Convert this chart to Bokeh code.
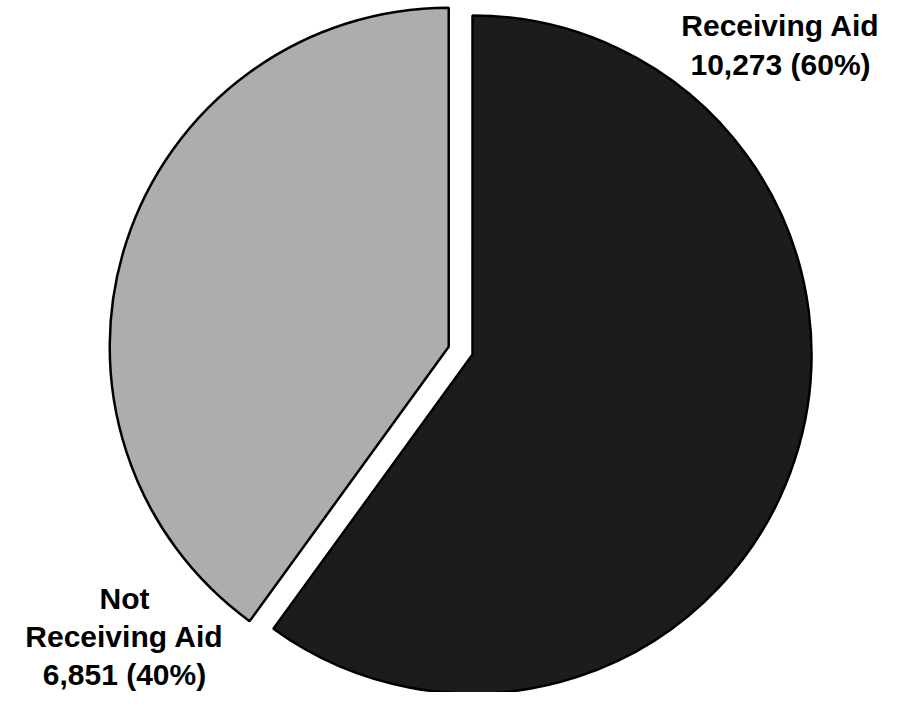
import math
from bokeh.plotting import figure
from bokeh.models import Range1d, ColumnDataSource
from bokeh.core.properties import value
from bokeh.embed import file_html
from bokeh.resources import INLINE

# ---- data ----
categories = ["Receiving Aid", "Not Receiving Aid"]
counts = [10273, 6851]
label_lines = [["Receiving Aid"], ["Not", "Receiving Aid"]]

# ---- style / layout ----
colors = ["#1c1c1c", "#adadad"]
explode = [0, 25]
W, H = 884, 692
cx, cy, R = 472, 338, 339
label_anchor = [(780, 667), (124, 94)]   # first-line anchor for each label block
line_gaps = [39, 38]

p = figure(width=W, height=H, output_backend="svg", toolbar_location=None,
           x_range=Range1d(0, W), y_range=Range1d(0, H),
           min_border=0, outline_line_color=None)
p.axis.visible = False
p.grid.visible = False
p.background_fill_color = "white"
p.border_fill_color = "white"

total = sum(counts)
start = 90.0  # degrees; slices go clockwise from 12 o'clock
for i, (c, col) in enumerate(zip(counts, colors)):
    sweep = 360.0 * c / total
    end = start - sweep
    mid = math.radians((start + end) / 2)
    ox = cx + explode[i] * math.cos(mid)
    oy = cy + explode[i] * math.sin(mid)
    p.wedge(x=[ox], y=[oy], radius=R, start_angle=[math.radians(end)],
            end_angle=[math.radians(start)], direction="anticlock",
            fill_color=col, line_color="black", line_width=2.5)
    start = end

# ---- labels ----
xs, ys, txt = [], [], []
for i, c in enumerate(counts):
    pct = 100.0 * c / total
    lines = label_lines[i] + [f"{c:,} ({pct:.0f}%)"]
    ax, ay = label_anchor[i]
    for k, t in enumerate(lines):
        xs.append(ax)
        ys.append(ay - k * line_gaps[i])
        txt.append(t)

src = ColumnDataSource(dict(x=xs, y=ys, text=txt))
p.text(x="x", y="y", text="text", source=src, text_align="center",
       text_baseline="alphabetic", text_font=value("Liberation Sans"),
       text_font_style="bold", text_font_size="30px", text_color="black")

open("out.html", "w").write(file_html(p, INLINE))
